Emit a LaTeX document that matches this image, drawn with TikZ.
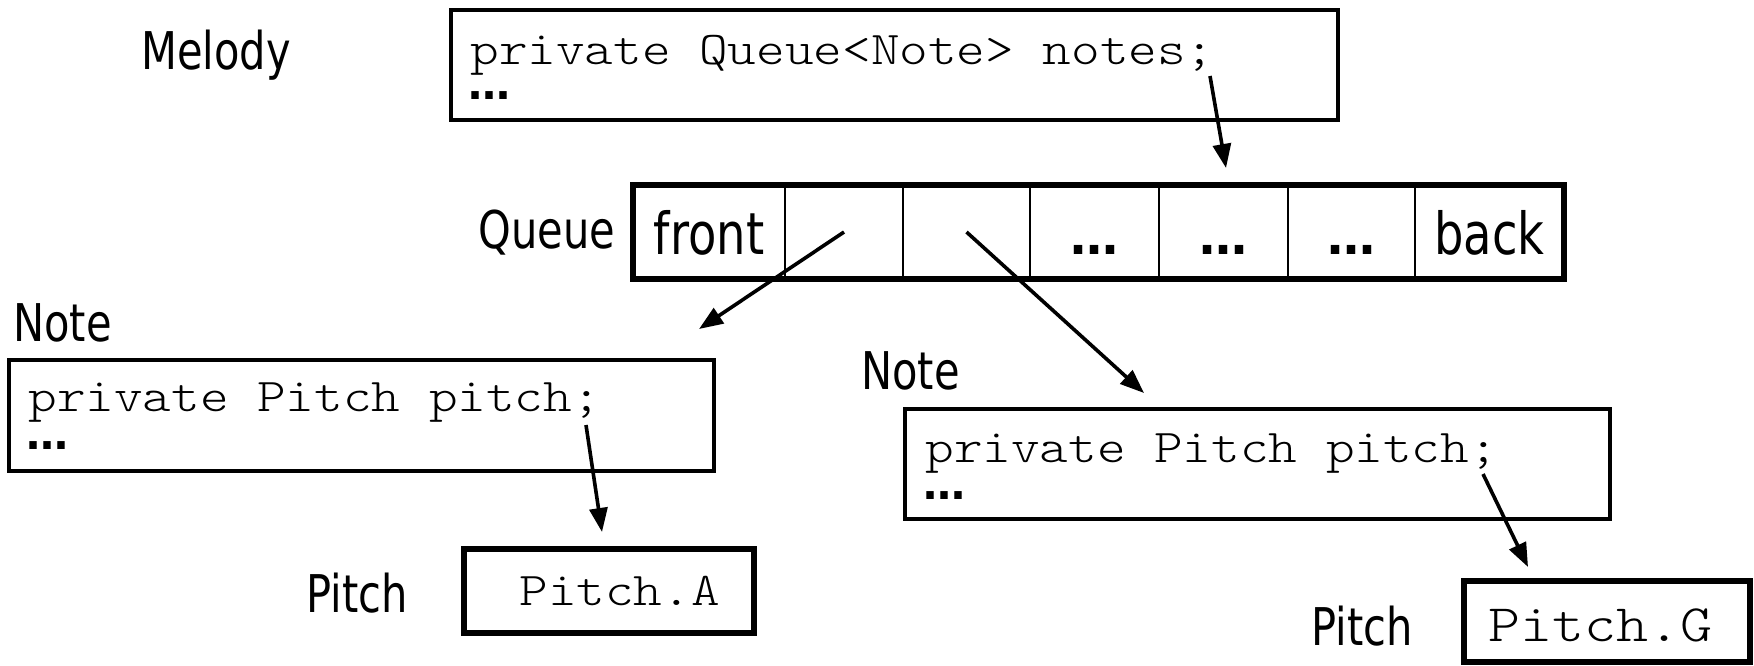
\documentclass[tikz,border=0pt]{standalone}
\usepackage{fontspec}
\usetikzlibrary{arrows.meta}
\newfontfamily\labelfont{DejaVu Sans}[FakeStretch=0.8]
\newfontfamily\dotfont{DejaVu Sans Bold}
\newfontfamily\codefont{Latin Modern Mono Light}[FakeStretch=1.16]

\tikzset{
  lbl/.style={font=\labelfont\fontsize{26pt}{30pt}\selectfont, inner sep=0pt, anchor=base west},
  cell/.style={draw, line width=0.75pt, minimum height=47pt, inner sep=0pt, outer sep=0pt,
               text height=22pt, text depth=0pt,
               font=\labelfont\fontsize{29pt}{32pt}\selectfont},
  cdots/.style={font=\dotfont\fontsize{24pt}{28pt}\selectfont},
  codetxt/.style={font=\codefont\fontsize{23.5pt}{28pt}\selectfont, inner sep=0pt, anchor=base west},
  codedots/.style={font=\dotfont\fontsize{21pt}{24pt}\selectfont, inner sep=0pt, anchor=base west},
  bigcode/.style={font=\codefont\fontsize{26.3pt}{30pt}\selectfont, inner sep=0pt, anchor=base west},
  objbox/.style={draw, line width=2pt, inner sep=0pt, outer sep=0pt, anchor=north west},
  valbox/.style={draw, line width=3pt, inner sep=0pt, outer sep=0pt, anchor=north west},
  ref/.style={line width=1.8pt, -{Triangle[length=12pt,width=9pt]}},
}

\begin{document}
\begin{tikzpicture}[x=0.5pt,y=-0.5pt]
\useasboundingbox (0,0) rectangle (1754,665);

% Melody object
\node[lbl] (melodyLbl) at (141,69) {Melody};
\node[objbox, minimum width=443.5pt, minimum height=55pt] (melody) at (451,10) {};
\node[codetxt] (melodyCode) at (470,64) {private Queue<Note> notes;};
\node[codedots] (melodyMore) at (468,99) {…};

% Queue cells
\node[lbl] (queueLbl) at (478,248) {Queue};
\node[cell, minimum width=76pt]   (c1) at (709,232)    {front};
\node[cell, minimum width=59pt]   (c2) at (844,232)    {};
\node[cell, minimum width=63.5pt] (c3) at (966.5,232)  {};
\node[cell, cdots, minimum width=64.5pt] (c4) at (1094.5,232) {…};
\node[cell, cdots, minimum width=64.5pt] (c5) at (1223.5,232) {…};
\node[cell, cdots, minimum width=63.5pt] (c6) at (1351.5,232) {…};
\node[cell, minimum width=74.5pt] (c7) at (1489.5,232) {back};
\node[valbox, minimum width=465.5pt, minimum height=47pt] (queue) at (633,185) {};

% left Note object
\node[lbl] (noteLblA) at (13,341) {Note};
\node[objbox, minimum width=352.5pt, minimum height=55.5pt] (noteA) at (9,360) {};
\node[codetxt] (noteCodeA) at (28,411) {private Pitch pitch;};
\node[codedots] (noteMoreA) at (26,449) {…};

% right Note object
\node[lbl] (noteLblB) at (861,389) {Note};
\node[objbox, minimum width=352.5pt, minimum height=55pt] (noteB) at (905,409) {};
\node[codetxt] (noteCodeB) at (925,462) {private Pitch pitch;};
\node[codedots] (noteMoreB) at (923,499) {…};

% Pitch values
\node[lbl] (pitchLblA) at (306,612) {Pitch};
\node[valbox, minimum width=145pt, minimum height=42pt] (pitchA) at (464,549) {};
\node[codetxt] (pitchValA) at (519,605) {Pitch.A};

\node[lbl] (pitchLblB) at (1311,645) {Pitch};
\node[valbox, minimum width=143pt, minimum height=40.5pt] (pitchB) at (1464,581) {};
\node[bigcode] (pitchValB) at (1488,641) {Pitch.G};

% reference ends
\coordinate (notesRef) at (1210,76);
\coordinate (queueIn)  at (1226,168);
\coordinate (noteAIn)  at (699,329);
\coordinate (noteBIn)  at (1144,393);
\coordinate (pitchRefA) at (586,425);
\coordinate (pitchAIn)  at (602,532);
\coordinate (pitchRefB) at (1483,474);
\coordinate (pitchBIn)  at (1528,567);

% references
\draw[ref] (notesRef) -- (queueIn);
\draw[ref] (c2.center) -- (noteAIn);
\draw[ref] (c3.center) -- (noteBIn);
\draw[ref] (pitchRefA) -- (pitchAIn);
\draw[ref] (pitchRefB) -- (pitchBIn);
\end{tikzpicture}
\end{document}
